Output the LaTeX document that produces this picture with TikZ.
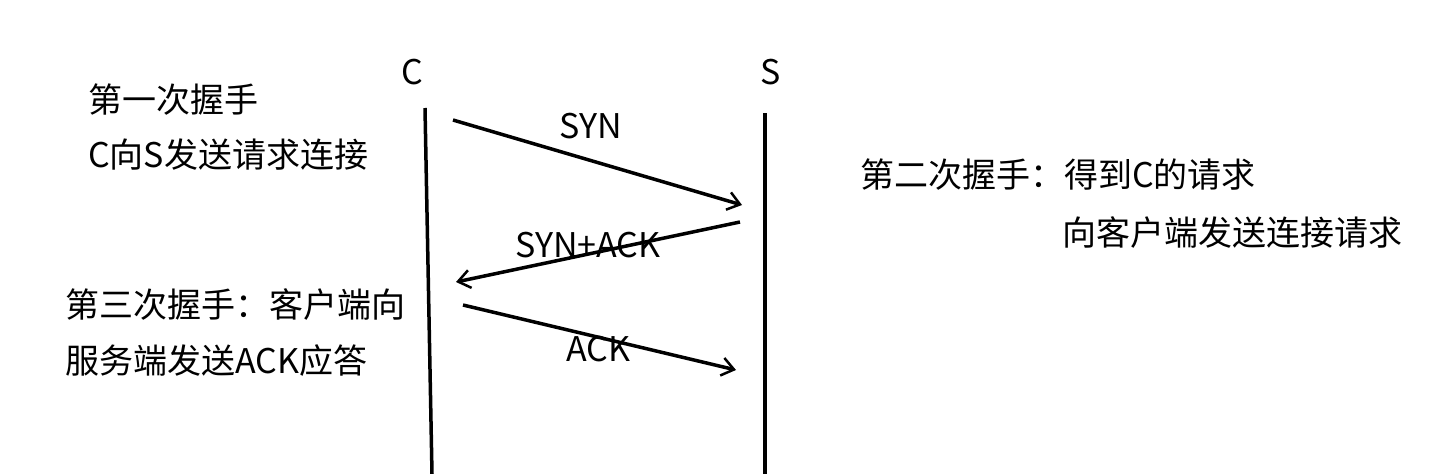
\documentclass[tikz,border=0pt]{standalone}
\usepackage{fontspec}
\setmainfont{Noto Sans CJK SC}
\usetikzlibrary{arrows.meta}
\begin{document}
\begin{tikzpicture}[x=1pt,y=-1pt,
  lbl/.style={font=\fontsize{34}{38}\selectfont, inner sep=0pt},
  txt/.style={lbl, anchor=west},
  life/.style={line width=3.5pt},
  msg/.style={line width=3.5pt,-{Straight Barb[length=12pt,width=18pt,line width=2.5pt]}}]
\useasboundingbox (0,0) rectangle (1449,474);
\node[lbl] (C) at (412,72) {C};
\node[lbl] (S) at (771,72) {S};
\coordinate (c1) at (425,108); \coordinate (c2) at (432,474);
\coordinate (s1) at (765,113); \coordinate (s2) at (765,474);
\draw[life] (c1) -- (c2);
\draw[life] (s1) -- (s2);
\coordinate (a1) at (453,120); \coordinate (a2) at (742,205);
\coordinate (b1) at (740,222); \coordinate (b2) at (456,282);
\coordinate (d1) at (463,305); \coordinate (d2) at (736,370);
\draw[msg] (a1) -- (a2);
\draw[msg] (b1) -- (b2);
\draw[msg] (d1) -- (d2);
\node[lbl] (syn) at (591,126) {SYN};
\node[lbl] (synack) at (588,245) {SYN+ACK};
\node[lbl] (ack) at (598,349) {ACK};
\node[txt] (t1) at (88,100) {第一次握手};
\node[txt] (t2) at (88,155) {C向S发送请求连接};
\node[txt] (t3) at (65,305) {第三次握手：客户端向};
\node[txt] (t4) at (65,361) {服务端发送ACK应答};
\node[txt] (t5) at (860,175) {第二次握手：得到C的请求};
\node[txt] (t6) at (1062,233) {向客户端发送连接请求};
\end{tikzpicture}
\end{document}
